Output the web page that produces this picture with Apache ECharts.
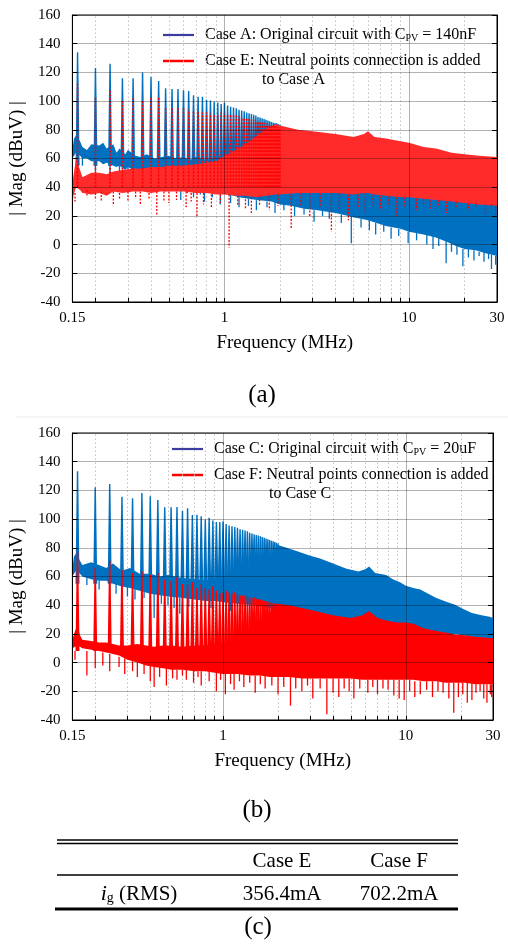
<!DOCTYPE html>
<html>
<head>
<meta charset="utf-8">
<script src="https://cdn.jsdelivr.net/npm/echarts@6/dist/echarts.min.js"></script>
<style>
  html, body { margin: 0; padding: 0; background: #fff; }
  #chart { width: 508px; height: 945px; }
</style>
</head>
<body>
<div id="chart"></div>
<script>
// harmonic spikes every 40 kHz
const spikeFreqs = [0.16, 0.20, 0.24, 0.28, 0.32, 0.36, 0.40, 0.44, 0.48, 0.52,
  0.56, 0.60, 0.64, 0.68, 0.72, 0.76, 0.80, 0.84, 0.88, 0.92,
  0.96, 1.00, 1.04, 1.08, 1.12, 1.16, 1.20, 1.24, 1.28, 1.32,
  1.36, 1.40, 1.44, 1.48, 1.52, 1.56, 1.60, 1.64, 1.68, 1.72,
  1.76, 1.80, 1.84, 1.88, 1.92, 1.96, 2.00];

const peaksA = [134, 123, 126, 116, 116, 120, 117, 114, 109, 108.5,
  108.5, 107.5, 107, 104, 103, 103, 101, 100.5, 99.5, 99,
  98, 99, 97, 96, 95.5, 95, 94, 93.5, 93, 92,
  91.5, 91, 90.5, 90, 89, 88.5, 88, 87.5, 87, 86.5,
  86, 85.5, 85, 84.8, 84.5, 84, 83.5];
const peaksE = [112.6, 103, 107.7, 100.8, 102, 100, 103, 103, 95.7, 96,
  95, 95, 94, 93, 93.5, 92, 92, 91.5, 91, 91,
  92, 91.5, 91, 90.5, 90, 90, 89.5, 89, 88.5, 88,
  87.5, 87, 87, 86.5, 86, 85.5, 85, 85, 84.5, 84,
  83.5, 83, 83, 82.5, 82, 82, 81.5];
const peaksC = [133.3, 122.2, 124.5, 115.5, 114.6, 118.2, 115.9, 113.3, 108.2, 108.2,
  108.5, 105.9, 107.5, 102.8, 103, 102, 99.6, 101, 99, 98,
  98, 98.4, 96.5, 95.5, 95, 94.5, 94, 93, 92.5, 92,
  91.5, 90.5, 90, 89.5, 89, 88.5, 88, 87.5, 87, 86.5,
  86, 85.5, 85, 84.5, 84, 83.5, 83];
const peaksF = [77.5, 66, 71, 64.7, 62.4, 63.6, 61.3, 62.4, 57.8, 57,
  59.4, 54.8, 54.5, 56, 52, 54.5, 52, 51, 53, 50,
  48.5, 48.6, 50, 49, 48, 49, 47.5, 47, 46.5, 47,
  46, 45.5, 45, 45.5, 44.5, 44, 44, 43.5, 43, 43,
  42.5, 42, 42, 41.5, 41, 41, 40.5];

// spike foot level (dBuV) for each case
const baseA = 55;
const baseE = 40;
const baseC = 55;
const baseF = 8;

// noise band rows: [MHz, lower dBuV, upper dBuV]
const bandA = [[0.15, 60, 66], [0.153, 62, 74], [0.157, 64, 76], [0.165, 62, 72], [0.17, 60, 68],
  [0.18, 60, 66], [0.19, 58, 70], [0.21, 58, 69], [0.22, 56, 71], [0.23, 57, 67], [0.25, 55, 70],
  [0.26, 54, 64], [0.27, 55, 67], [0.29, 52, 63], [0.30, 54, 66], [0.33, 51, 62], [0.35, 49, 61],
  [0.38, 50, 63], [0.42, 47, 60], [0.46, 46, 61], [0.50, 45, 62], [0.55, 44, 60], [0.60, 43, 61],
  [0.65, 40, 59], [0.70, 41, 61], [0.80, 38, 59], [0.90, 37, 61], [1.0, 36, 62], [1.2, 33, 64],
  [1.5, 31, 68], [1.8, 30, 75], [2.0, 28, 82], [2.3, 27, 80], [2.7, 25, 79], [3.2, 24, 77],
  [4.0, 22, 75], [5.0, 19, 72], [6.0, 17, 73], [7.5, 13, 70], [9.0, 11, 67], [10, 9, 66],
  [12, 7, 64], [14, 5, 62], [16, 2, 60], [18, -1, 58], [20, -3, 57], [23, -4, 55], [26, -6, 53], [30, -8, 52]];
const bandE = [[0.15, 28, 42], [0.152, 34, 48], [0.157, 40, 60], [0.165, 38, 52], [0.17, 36, 47],
  [0.19, 35, 50], [0.21, 36, 50], [0.23, 34, 49], [0.25, 37, 51], [0.28, 36, 52], [0.32, 37, 53],
  [0.36, 37, 53], [0.40, 36, 54], [0.45, 37, 54], [0.50, 37, 55], [0.60, 37, 55], [0.70, 36, 56],
  [0.80, 36, 57], [0.90, 35, 58], [1.0, 35, 62], [1.15, 34, 66], [1.3, 34, 70], [1.5, 33, 76],
  [1.7, 34, 81], [1.9, 35, 84], [2.0, 35, 83], [2.5, 36, 80], [3.0, 36, 79], [4.0, 36, 77], [5.0, 35, 75],
  [5.7, 36, 77], [6.0, 36, 79], [6.5, 35, 75], [7.5, 34, 74], [9.0, 33, 72], [10, 33, 71],
  [12, 32, 68], [14, 31, 67], [17, 30, 64], [20, 29, 63], [24, 28, 62], [30, 27, 61]];
const bandC = [[0.15, 60, 66], [0.153, 62, 74], [0.157, 64, 76], [0.165, 62, 71], [0.17, 60, 68],
  [0.19, 58, 70], [0.21, 57, 68], [0.23, 57, 66], [0.25, 55, 69], [0.28, 53, 64], [0.31, 52, 66],
  [0.35, 50, 62], [0.40, 48, 62], [0.45, 47, 60], [0.50, 46, 61], [0.60, 45, 59], [0.70, 44, 58],
  [0.80, 43, 57], [0.90, 43, 58], [1.0, 42, 58], [1.2, 41, 62], [1.5, 40, 68], [1.8, 38, 75],
  [2.0, 36, 82], [2.5, 33, 78], [3.0, 31, 74.5], [3.4, 30, 72.5], [4.0, 29, 69], [4.7, 28, 65.5],
  [5.5, 27, 63.5], [6.0, 28, 65], [6.3, 29, 67], [6.8, 27, 62.5], [7.8, 26, 61], [8.5, 25, 58],
  [9.3, 24, 56], [10, 24, 53.5], [11, 23, 52], [12, 22, 51], [13.5, 21, 47.5], [14.7, 21, 45],
  [16.5, 20, 42.5], [18.6, 20, 40.3], [20.5, 19, 37.5], [23, 18, 34.5], [26, 17, 33], [28.7, 16, 32], [30, 16, 31]];
const bandF = [[0.15, 10, 16], [0.155, 11, 22], [0.16, 12, 26], [0.165, 11, 19], [0.17, 10, 16],
  [0.19, 9, 15], [0.21, 8, 14], [0.23, 7, 14], [0.25, 6, 13], [0.27, 5, 12], [0.30, 2, 12],
  [0.34, 0, 13], [0.38, -2, 12], [0.42, -3, 11], [0.47, -4, 12], [0.52, -5, 12], [0.60, -5, 11],
  [0.70, -6, 12], [0.80, -6, 12], [0.90, -7, 13], [1.0, -8, 14], [1.2, -8, 16], [1.4, -9, 20],
  [1.6, -9, 28], [1.8, -10, 35], [2.0, -10, 41], [2.3, -10, 40], [2.7, -11, 38], [3.2, -11, 36],
  [4.0, -11, 33], [5.0, -11, 31], [5.8, -12, 33], [6.3, -12, 36], [7.0, -12, 31], [8.0, -12, 29],
  [9.0, -12, 28], [10, -12, 28], [11, -12, 27], [12.5, -13, 24], [14.7, -13, 22], [16.5, -14, 21],
  [18.6, -14, 19.5], [21, -14, 19], [24, -15, 18], [27, -15, 17.5], [30, -15, 17]];

// downward noise dips: [MHz, from dBuV, to dBuV]
const dipsA = [[0.17, 62, 55], [0.2, 58, 51], [0.24, 55, 48], [0.27, 55, 47], [0.3, 54, 45], [0.34, 51, 44],
  [0.36, 50, 41], [0.41, 48, 40], [0.44, 47, 39], [0.48, 46, 37], [0.52, 45, 38], [0.58, 44, 31],
  [0.63, 42, 36], [0.68, 41, 33], [0.74, 40, 35], [0.78, 39, 30], [0.86, 38, 33], [0.95, 37, 28],
  [1.08, 35, 29], [1.2, 33, 26], [1.35, 32, 27], [1.49, 31, 24], [1.7, 30, 26], [1.88, 30, 22],
  [2.1, 28, 24], [2.4, 27, 20], [2.7, 25, 21], [3.06, 24, 16], [3.4, 24, 20], [3.7, 23, 18],
  [4.3, 21, 15], [4.87, 20, 1], [5.5, 18, 12], [6.1, 17, 10], [6.6, 15, 7], [7.3, 14, 9], [8, 12, 4],
  [8.8, 11, 6], [9.9, 9, 1], [11, 8, 3], [12.5, 7, 0], [13.5, 6, -3], [14.5, 5, -1], [15.9, 3, -13],
  [17, 1, -5], [18.2, -1, -7], [19.6, -3, -15], [21, -3, -9], [22.5, -4, -11], [24, -5, -8],
  [25.5, -5, -12], [27, -6, -10], [28, -7, -17], [29.5, -8, -14]];
const dipsE = [[0.15, 32, 27], [0.155, 36, 30], [0.18, 38, 33], [0.2, 36, 31], [0.215, 37, 30], [0.25, 37, 27],
  [0.27, 36, 31], [0.3, 37, 30], [0.33, 37, 32], [0.35, 37, 28], [0.39, 36, 31], [0.43, 37, 21],
  [0.47, 37, 30], [0.5, 37, 29], [0.55, 37, 31], [0.62, 37, 26], [0.66, 36, 30], [0.71, 36, 19],
  [0.77, 36, 28], [0.85, 35, 26], [0.95, 35, 29], [1.06, 35, -2], [1.18, 34, 27], [1.3, 34, 25],
  [1.4, 33, 22], [1.55, 34, 27], [1.75, 34, 24], [1.95, 35, 27], [2.3, 35, 11], [2.6, 36, 27],
  [2.9, 36, 20], [3.3, 36, 26], [3.8, 36, 9], [4.2, 36, 24], [4.7, 35, 17], [5.3, 35, 25],
  [5.8, 36, 22], [6.4, 35, 27], [7.0, 34, 24], [7.8, 34, 27], [8.6, 33, 20], [9.5, 33, 26],
  [11, 32, 24], [12, 32, 28], [13, 31, 25], [14.5, 31, 27], [16, 30, 22], [18, 30, 26],
  [21, 29, 24], [23, 29, 26], [26, 28, 21], [28, 28, 25], [29.5, 27, 20]];
const dipsC = [[0.18, 60, 54], [0.21, 57, 51], [0.24, 57, 50], [0.26, 55, 48], [0.3, 53, 46], [0.33, 52, 44],
  [0.37, 50, 45], [0.42, 48, 31], [0.46, 47, 41], [0.5, 46, 40], [0.54, 46, 38], [0.58, 45, 34],
  [0.65, 45, 39], [0.72, 44, 33], [0.8, 43, 35], [0.86, 43, 38], [0.92, 43, 34], [1.0, 42, 37],
  [1.1, 42, 36], [1.25, 41, 34], [1.4, 40, 30], [1.55, 40, 33], [1.66, 39, 22], [1.85, 38, 30]];
const dipsF = [[0.155, 8, 2], [0.18, 8, -9], [0.2, 8, -4], [0.22, 7, -2], [0.24, 6, -6], [0.27, 4, -3],
  [0.29, 3, -8], [0.32, 1, -6], [0.34, 0, -10], [0.37, -1, -8], [0.40, -2, -13], [0.42, -3, -17],
  [0.45, -3, -10], [0.49, -4, -16], [0.53, -4, -11], [0.56, -5, -12], [0.6, -5, -9], [0.63, -5, -12],
  [0.69, -5, -14], [0.73, -6, -10], [0.76, -6, -16], [0.84, -6, -13], [0.92, -7, -20], [0.97, -7, -12],
  [1.03, -8, -22], [1.1, -8, -15], [1.15, -8, -19], [1.23, -8, -13], [1.3, -8, -17], [1.4, -9, -14],
  [1.5, -9, -21], [1.6, -9, -15], [1.7, -9, -18], [1.85, -9, -16], [2.0, -10, -22], [2.15, -10, -17],
  [2.34, -10, -30], [2.5, -10, -18], [2.7, -10, -20], [2.9, -10, -16], [3.1, -11, -25], [3.4, -11, -18],
  [3.7, -11, -36], [4.0, -11, -21], [4.3, -11, -24], [4.6, -11, -18], [4.9, -11, -20], [5.2, -11, -25],
  [5.6, -11, -18], [6.2, -12, -21], [6.6, -12, -17], [7.0, -12, -22], [7.5, -12, -18], [8.0, -12, -19],
  [8.6, -12, -23], [9.2, -12, -25], [9.8, -12, -26], [10.5, -12, -20], [11.2, -13, -24], [12, -13, -22],
  [13, -13, -19], [14, -13, -24], [15, -13, -20], [16, -13, -21], [17.2, -14, -25], [18.3, -14, -35],
  [19.4, -14, -24], [20.5, -14, -22], [21.7, -14, -28], [23, -14, -26], [24.2, -15, -21], [25.5, -15, -20],
  [26.7, -15, -25], [27.8, -15, -28], [29, -15, -22], [29.5, -15, -24]];

const minorTicks = [0.2, 0.3, 0.4, 0.5, 0.6, 0.7, 0.8, 0.9, 2, 3, 4, 5, 6, 7, 8, 9, 20];
const majorTicks = [1, 10];
const captions = ['(a)', '(b)', '(c)'];
const tableHead = ['Case E', 'Case F'];
const tableRms = ['356.4mA', '702.2mA'];

const BLUE = '#0070c0';
const RED = '#ff0000';
const RED_DOTTED = '#ff2a2a';
const serif = '"Liberation Serif", "Times New Roman", serif';

const chart = echarts.init(document.getElementById('chart'));

function bandSeries(rows, color, gi) {
  return {
    type: 'custom', xAxisIndex: gi, yAxisIndex: gi * 2, clip: true, silent: true, z: 2,
    encode: { x: 0, y: [1, 2] },
    data: rows,
    renderItem(params, api) {
      if (params.dataIndex !== 0) return null;
      const top = rows.map(r => api.coord([r[0], r[2]]));
      const bot = rows.map(r => api.coord([r[0], r[1]])).reverse();
      return {
        type: 'polygon',
        shape: { points: top.concat(bot) },
        style: { fill: color }
      };
    }
  };
}

function strokeSeries(rows, color, gi, width, dash) {
  return {
    type: 'custom', xAxisIndex: gi, yAxisIndex: gi * 2, clip: true, silent: true, z: 2,
    encode: { x: 0, y: [1, 2] },
    data: rows,
    renderItem(params, api) {
      const a = api.coord([api.value(0), api.value(1)]);
      const b = api.coord([api.value(0), api.value(2)]);
      return {
        type: 'line',
        shape: { x1: a[0], y1: a[1], x2: b[0], y2: b[1] },
        style: { stroke: color, lineWidth: width, lineDash: dash || null }
      };
    }
  };
}

function spikeSeries(peaks, base, color, gi, dashed) {
  const rows = spikeFreqs.map((f, i) => [f, base, peaks[i]]);
  if (dashed) return strokeSeries(rows, color, gi, 1.6, [2, 1.5]);
  return {
    type: 'custom', xAxisIndex: gi, yAxisIndex: gi * 2, clip: true, silent: true, z: 2,
    encode: { x: 0, y: [1, 2] },
    data: rows,
    renderItem(params, api) {
      const lo = api.coord([api.value(0), api.value(1)]);
      const hi = api.coord([api.value(0), api.value(2)]);
      return {
        type: 'polygon',
        shape: { points: [[lo[0] - 2, lo[1]], [hi[0] - 0.7, hi[1]], [hi[0] + 0.7, hi[1]], [lo[0] + 2, lo[1]]] },
        style: { fill: color }
      };
    }
  };
}

// vertical grid: dotted minor lines under the data, solid decade lines over it
function vGrid(gi, values, style, z) {
  return {
    type: 'line', xAxisIndex: gi, yAxisIndex: gi * 2, data: [], silent: true, z: z,
    markLine: {
      symbol: 'none', silent: true, animation: false, z: z,
      label: { show: false },
      emphasis: { disabled: true },
      lineStyle: style,
      data: values.map(v => ({ xAxis: v }))
    }
  };
}

function xAxisFor(gi) {
  return {
    type: 'log', logBase: 10, gridIndex: gi, min: 0.15, max: 30, z: 5,
    axisLine: { show: true, onZero: false, lineStyle: { color: '#000', width: 1 } },
    axisTick: { show: true, inside: true, length: 4, customValues: minorTicks.concat(majorTicks), lineStyle: { color: '#000' } },
    axisLabel: {
      margin: 9, fontFamily: serif, fontSize: 15, color: '#000',
      showMinLabel: true, showMaxLabel: true,
      formatter: v => String(+Number(v).toPrecision(4))
    },
    splitLine: { show: false },
    name: 'Frequency (MHz)', nameLocation: 'middle', nameGap: 32,
    nameTextStyle: { fontFamily: serif, fontSize: 19, color: '#000' }
  };
}

function yAxisFor(gi, right) {
  return {
    type: 'value', gridIndex: gi, min: -40, max: 160, interval: 20,
    position: right ? 'right' : 'left', z: 5,
    axisLine: { show: true, onZero: false, lineStyle: { color: '#000' } },
    axisTick: { show: true, inside: true, length: 5, lineStyle: { color: '#000' } },
    axisLabel: { show: !right, margin: 12, fontFamily: serif, fontSize: 15, color: '#000' },
    splitLine: { show: !right, lineStyle: { color: 'rgba(0,0,0,0.3)' } },
    name: right ? '' : '| Mag (dBuV) |', nameLocation: 'middle', nameGap: 40,
    nameTextStyle: { fontFamily: serif, fontSize: 19, color: '#000' }
  };
}

const txt = { fontFamily: serif, fill: '#000' };
const legendRich = {
  t: { fontFamily: serif, fontSize: 16, fill: '#000' },
  s: { fontFamily: serif, fontSize: 10, fill: '#000', padding: [7, 0, 0, 0] }
};

function legendBlock(x, y, line1, line2, line3, indent) {
  return [
    { type: 'line', shape: { x1: x, y1: y, x2: x + 31, y2: y }, style: { stroke: '#3c3ca0', lineWidth: 2.2 } },
    { type: 'text', x: x + 42, y: y, style: { text: line1, rich: legendRich, verticalAlign: 'middle' } },
    { type: 'line', shape: { x1: x, y1: y + 26, x2: x + 31, y2: y + 26 }, style: { stroke: RED, lineWidth: 2.5 } },
    { type: 'text', x: x + 42, y: y + 26, style: Object.assign({ text: line2, fontSize: 16, verticalAlign: 'middle' }, txt) },
    { type: 'text', x: x + indent, y: y + 45, style: Object.assign({ text: line3, fontSize: 16, verticalAlign: 'middle' }, txt) }
  ];
}

function centered(x, y, text, size) {
  return { type: 'text', x: x, y: y, style: Object.assign({ text: text, fontSize: size, align: 'center', verticalAlign: 'middle' }, txt) };
}

const tableX0 = 57, tableX1 = 458;
const graphics = [
  { type: 'line', shape: { x1: 16, y1: 417, x2: 508, y2: 417 }, style: { stroke: '#ebebeb', lineWidth: 1 } },
  ...legendBlock(163, 35, '{t|Case A: Original circuit with C}{s|PV}{t| = 140nF}', 'Case E: Neutral points connection is added', 'to Case A', 99),
  ...legendBlock(172, 449, '{t|Case C: Original circuit with C}{s|PV}{t| = 20uF}', 'Case F: Neutral points connection is added', 'to Case C', 97),
  centered(262, 395, captions[0], 25),
  centered(257, 810, captions[1], 25),
  centered(258, 927, captions[2], 25),
  { type: 'line', shape: { x1: tableX0, y1: 840, x2: tableX1, y2: 840 }, style: { stroke: '#000', lineWidth: 1.3 } },
  { type: 'line', shape: { x1: tableX0, y1: 843.5, x2: tableX1, y2: 843.5 }, style: { stroke: '#000', lineWidth: 1.3 } },
  { type: 'line', shape: { x1: tableX0, y1: 875, x2: tableX1, y2: 875 }, style: { stroke: '#000', lineWidth: 1.3 } },
  { type: 'line', shape: { x1: 55, y1: 909, x2: tableX1, y2: 909 }, style: { stroke: '#000', lineWidth: 3 } },
  centered(282, 861, tableHead[0], 21),
  centered(399, 861, tableHead[1], 21),
  centered(282, 894, tableRms[0], 21),
  centered(399, 894, tableRms[1], 21),
  {
    type: 'text', x: 139, y: 894,
    style: {
      text: '{i|i}{g|g}{t| (RMS)}', align: 'center', verticalAlign: 'middle',
      rich: {
        i: { fontFamily: serif, fontSize: 22, fontStyle: 'italic', fill: '#000' },
        g: { fontFamily: serif, fontSize: 14, fill: '#000', padding: [9, 0, 0, 0] },
        t: { fontFamily: serif, fontSize: 21, fill: '#000' }
      }
    }
  }
];

const minorStyle = { color: '#c4c4c4', type: [1.5, 2.5], width: 1 };
const majorStyle = { color: 'rgba(0,0,0,0.3)', type: 'solid', width: 1 };

chart.setOption({
  animation: false,
  backgroundColor: '#fff',
  grid: [
    { left: 72, top: 15, width: 425, height: 287, show: true, borderColor: '#000', borderWidth: 1, backgroundColor: 'transparent' },
    { left: 71, top: 433, width: 422, height: 287, show: true, borderColor: '#000', borderWidth: 1, backgroundColor: 'transparent' }
  ],
  xAxis: [xAxisFor(0), xAxisFor(1)],
  yAxis: [yAxisFor(0, false), yAxisFor(0, true), yAxisFor(1, false), yAxisFor(1, true)],
  series: [
    vGrid(0, minorTicks, minorStyle, 0),
    bandSeries(bandA, BLUE, 0),
    strokeSeries(dipsA, BLUE, 0, 1.3),
    spikeSeries(peaksA, baseA, BLUE, 0, false),
    bandSeries(bandE, RED_DOTTED, 0),
    strokeSeries(dipsE, RED, 0, 1.3, [2, 1.5]),
    spikeSeries(peaksE, baseE, RED, 0, true),
    vGrid(0, majorTicks, majorStyle, 4),
    vGrid(1, minorTicks, minorStyle, 0),
    bandSeries(bandC, BLUE, 1),
    strokeSeries(dipsC, BLUE, 1, 1.3),
    spikeSeries(peaksC, baseC, BLUE, 1, false),
    bandSeries(bandF, RED, 1),
    strokeSeries(dipsF, RED, 1, 1.3),
    spikeSeries(peaksF, baseF, RED, 1, false),
    vGrid(1, majorTicks, majorStyle, 4)
  ],
  graphic: graphics
});
</script>
</body>
</html>
